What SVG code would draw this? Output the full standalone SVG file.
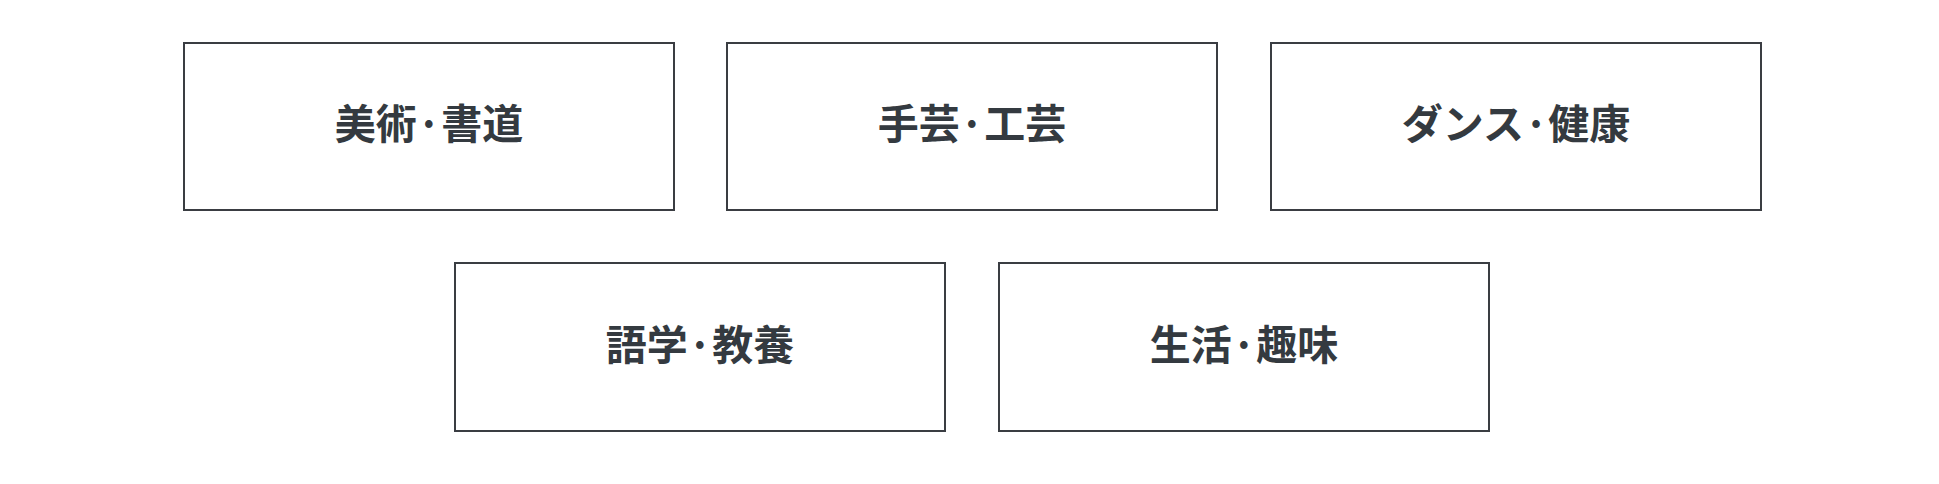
<svg xmlns="http://www.w3.org/2000/svg" width="1939" height="484" viewBox="0 0 1939 484">
<style>
.box{fill:#ffffff;stroke:#3a3d42;stroke-width:2}
.lbl{font-family:"Noto Sans CJK JP","Noto Sans",sans-serif;font-size:41px;font-weight:700;fill:#343a40;text-anchor:middle;dominant-baseline:central}
</style>
<rect width="1939" height="484" fill="#ffffff"/>
<g id="connectors"></g>
<g id="node1"><rect class="box" x="184" y="43" width="490" height="167"/><text class="lbl" x="429" y="121">美術·書道</text></g>
<g id="node2"><rect class="box" x="727" y="43" width="490" height="167"/><text class="lbl" x="972" y="121">手芸·工芸</text></g>
<g id="node3"><rect class="box" x="1271" y="43" width="490" height="167"/><text class="lbl" x="1516" y="121">ダンス·健康</text></g>
<g id="node4"><rect class="box" x="455" y="263" width="490" height="168"/><text class="lbl" x="700" y="342">語学·教養</text></g>
<g id="node5"><rect class="box" x="999" y="263" width="490" height="168"/><text class="lbl" x="1244" y="342">生活·趣味</text></g>
</svg>
